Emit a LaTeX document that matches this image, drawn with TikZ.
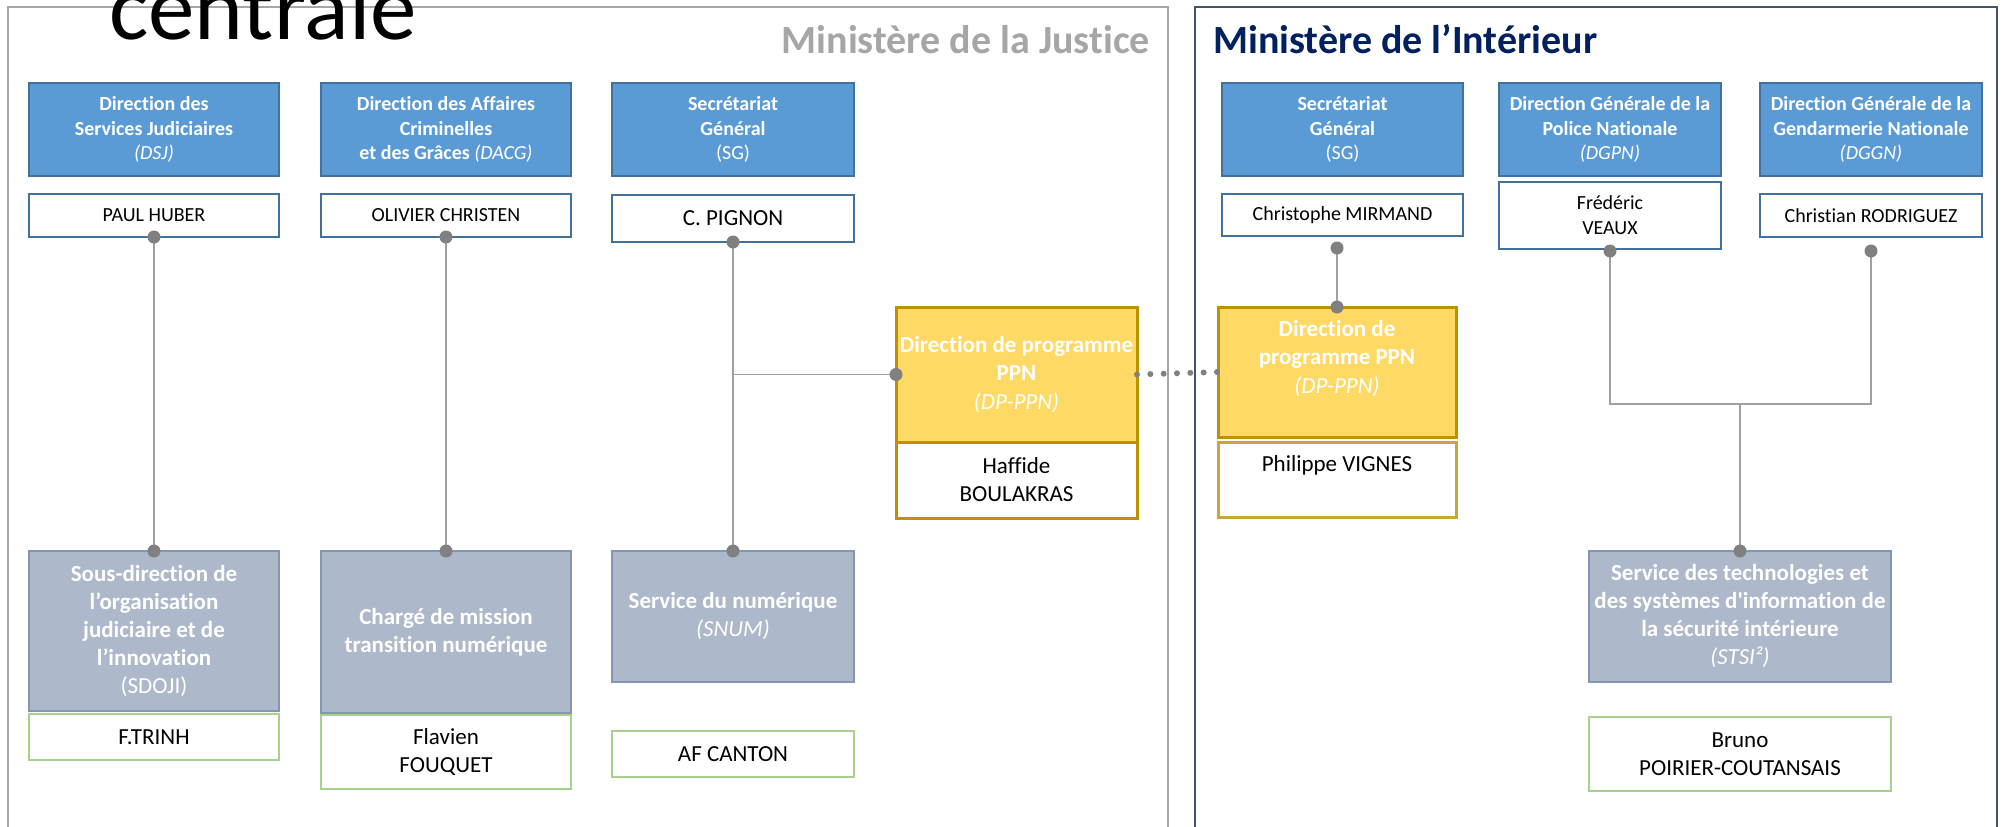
\documentclass[tikz,border=0pt]{standalone}
\usepackage{fontspec}
\setmainfont[Ligatures={TeX,NoCommon}]{Carlito}
\definecolor{blueF}{HTML}{5B9BD5}
\definecolor{blueD}{HTML}{41719C}
\definecolor{grayF}{HTML}{ADB9CA}
\definecolor{grayD}{HTML}{8497B0}
\definecolor{greenD}{HTML}{A9D18E}
\definecolor{yelF}{HTML}{FFD966}
\definecolor{yelD}{HTML}{BF9000}
\definecolor{yelL}{HTML}{C9A53C}
\definecolor{lineC}{HTML}{A0A0A0}
\definecolor{dotC}{HTML}{808080}
\definecolor{justC}{HTML}{A6A6A6}
\definecolor{intC}{HTML}{44546A}
\definecolor{navy}{HTML}{002060}
\tikzset{
  box/.style={rectangle, inner sep=0pt, outer sep=0pt, align=center, line width=2.5pt},
  topbox/.style={box, fill=blueF, draw=blueD, text=white, font=\fontsize{20}{24.5}\selectfont\bfseries},
  namebox/.style={box, fill=white, draw=blueD, text=black, font=\fontsize{20}{25}\selectfont},
  subbox/.style={box, fill=grayF, draw=grayD, text=white, font=\fontsize{23}{28}\selectfont\bfseries},
  greenbox/.style={box, fill=white, draw=greenD, text=black, font=\fontsize{23}{28.5}\selectfont},
  ppnbox/.style={box, fill=yelF, draw=yelD, line width=3pt, text=white, font=\fontsize{23}{28.5}\selectfont\bfseries},
  ppnname/.style={box, fill=white, draw=yelD, line width=3pt, text=black, font=\fontsize{23}{28}\selectfont},
  link/.style={draw=lineC, line width=1.6pt},
  dotlink/.style={draw=dotC, line width=6pt, line cap=round, dash pattern=on 0pt off 13.333pt},
  frameJ/.style={draw=justC, line width=2pt},
  frameI/.style={draw=intC, line width=2pt},
}
\newcommand{\jdot}[1]{\fill[dotC] (#1) circle (6.5pt);}
\begin{document}
\begin{tikzpicture}[x=1pt,y=-1pt]
\useasboundingbox (0,0) rectangle (2003,827);
\clip (0,0) rectangle (2003,827);
\fill[white] (0,0) rectangle (2003,827);

% frames
\draw[frameJ] (8,840) -- (8,7) -- (1168,7) -- (1168,840);
\draw[frameI] (1195,840) -- (1195,7) -- (1997,7) -- (1997,840);

% titles
\node[anchor=base, inner sep=0pt, font=\fontsize{93}{93}\selectfont] (centrale) at (263,39) {centrale};
\node[anchor=base east, inner sep=0pt, text=justC, font=\fontsize{40}{40}\selectfont\bfseries] (tJ) at (1150,53) {Ministère de la Justice};
\node[anchor=base west, inner sep=0pt, text=navy, font=\fontsize{40}{40}\selectfont\bfseries] (tI) at (1213,53) {Ministère de l’Intérieur};

% top row
\node[topbox, minimum width=250pt, minimum height=93pt] (dsj) at (154,129.5) {Direction des\\Services Judiciaires\\{\mdseries\itshape (DSJ)}};
\node[topbox, minimum width=250pt, minimum height=93pt] (dacg) at (446,129.5) {Direction des Affaires\\Criminelles\\et des Grâces {\mdseries\itshape (DACG)}};
\node[topbox, minimum width=242pt, minimum height=93pt] (sgj) at (733,129.5) {Secrétariat\\Général\\{\mdseries (SG)}};
\node[topbox, minimum width=241pt, minimum height=93pt] (sgi) at (1342.5,129.5) {Secrétariat\\Général\\{\mdseries (SG)}};
\node[topbox, minimum width=222pt, minimum height=93pt] (dgpn) at (1610,129.5) {Direction Générale de la\\Police Nationale\\{\mdseries\itshape (DGPN)}};
\node[topbox, minimum width=222pt, minimum height=93pt] (dggn) at (1871,129.5) {Direction Générale de la\\Gendarmerie Nationale\\{\mdseries\itshape (DGGN)}};

% name row
\node[namebox, minimum width=250pt, minimum height=43pt] (ph) at (154,215.5) {PAUL HUBER};
\node[namebox, minimum width=250pt, minimum height=43pt] (oc) at (446,215.5) {OLIVIER CHRISTEN};
\node[namebox, minimum width=242pt, minimum height=47pt, font=\fontsize{23}{28}\selectfont] (cp) at (733,218.5) {C. PIGNON};
\node[namebox, minimum width=241pt, minimum height=42pt] (cm) at (1342.5,215) {Christophe MIRMAND};
\node[namebox, minimum width=222pt, minimum height=67pt] (fv) at (1610,215.5) {Frédéric\\VEAUX};
\node[namebox, minimum width=222pt, minimum height=43pt] (cr) at (1871,215.5) {Christian RODRIGUEZ};

% PPN boxes
\node[ppnbox, minimum width=241pt, minimum height=135pt] (dpj) at (1016.5,374.5) {Direction de programme\\PPN\\{\mdseries\itshape (DP-PPN)}};
\node[ppnname, minimum width=241pt, minimum height=76pt] (hb) at (1016.5,480) {Haffide\\BOULAKRAS};
\node[ppnbox, minimum width=238pt, minimum height=130pt] (dpi) at (1337,372) {};
\node[text=white, align=center, inner sep=0pt, font=\fontsize{23}{28.5}\selectfont\bfseries] (dpiT) at (1337,358.5) {Direction de\\programme PPN\\{\mdseries\itshape (DP-PPN)}};
\node[ppnname, draw=yelL, minimum width=238pt, minimum height=75pt] (pv) at (1337,479.5) {};
\node[inner sep=0pt, font=\fontsize{23}{28}\selectfont] (pvT) at (1337,465) {Philippe VIGNES};

% bottom row
\node[subbox, minimum width=250pt, minimum height=160pt] (sdoji) at (154,631) {Sous-direction de\\l’organisation\\judiciaire et de\\l’innovation\\{\mdseries (SDOJI)}};
\node[greenbox, minimum width=250pt, minimum height=46pt] (ft) at (154,737) {F.TRINH};
\node[subbox, minimum width=250pt, minimum height=162pt] (charge) at (446,632) {Chargé de mission\\transition numérique};
\node[greenbox, minimum width=250pt, minimum height=74pt] (ff) at (446,752) {Flavien\\FOUQUET};
\node[subbox, minimum width=242pt, minimum height=131pt] (snum) at (733,616.5) {Service du numérique\\{\mdseries\itshape (SNUM)}};
\node[greenbox, minimum width=242pt, minimum height=46pt] (afc) at (733,754) {AF CANTON};
\node[subbox, minimum width=302pt, minimum height=131pt] (stsi) at (1740,616.5) {Service des technologies et\\des systèmes d\textquotesingle information de\\la sécurité intérieure\\{\mdseries\itshape (STSI²)}};
\node[greenbox, minimum width=302pt, minimum height=74pt] (bpc) at (1740,754) {Bruno\\POIRIER-COUTANSAIS};

% connectors
\coordinate (cmd) at (1337,248);
\coordinate (crd) at (1871,251);
\coordinate (fvd) at (1610,251);
\coordinate (jn) at (1740,404);
\draw[link] (ph.south) -- (sdoji.north);
\draw[link] (oc.south) -- (charge.north);
\draw[link] (cp.south) -- (snum.north);
\draw[link] (cp.south |- dpj.west) -- (dpj.west);
\draw[link] (cmd) -- (dpi.north);
\draw[link] (fvd) -- (fvd |- jn) -- (crd |- jn) -- (crd);
\draw[link] (jn) -- (stsi.north);
\draw[dotlink] (dpj.east) -- (dpi.west);

\jdot{ph.south}\jdot{sdoji.north}
\jdot{oc.south}\jdot{charge.north}
\jdot{cp.south}\jdot{snum.north}
\jdot{dpj.west}
\jdot{cmd}\jdot{dpi.north}
\jdot{fvd}\jdot{crd}\jdot{stsi.north}
\end{tikzpicture}
\end{document}
